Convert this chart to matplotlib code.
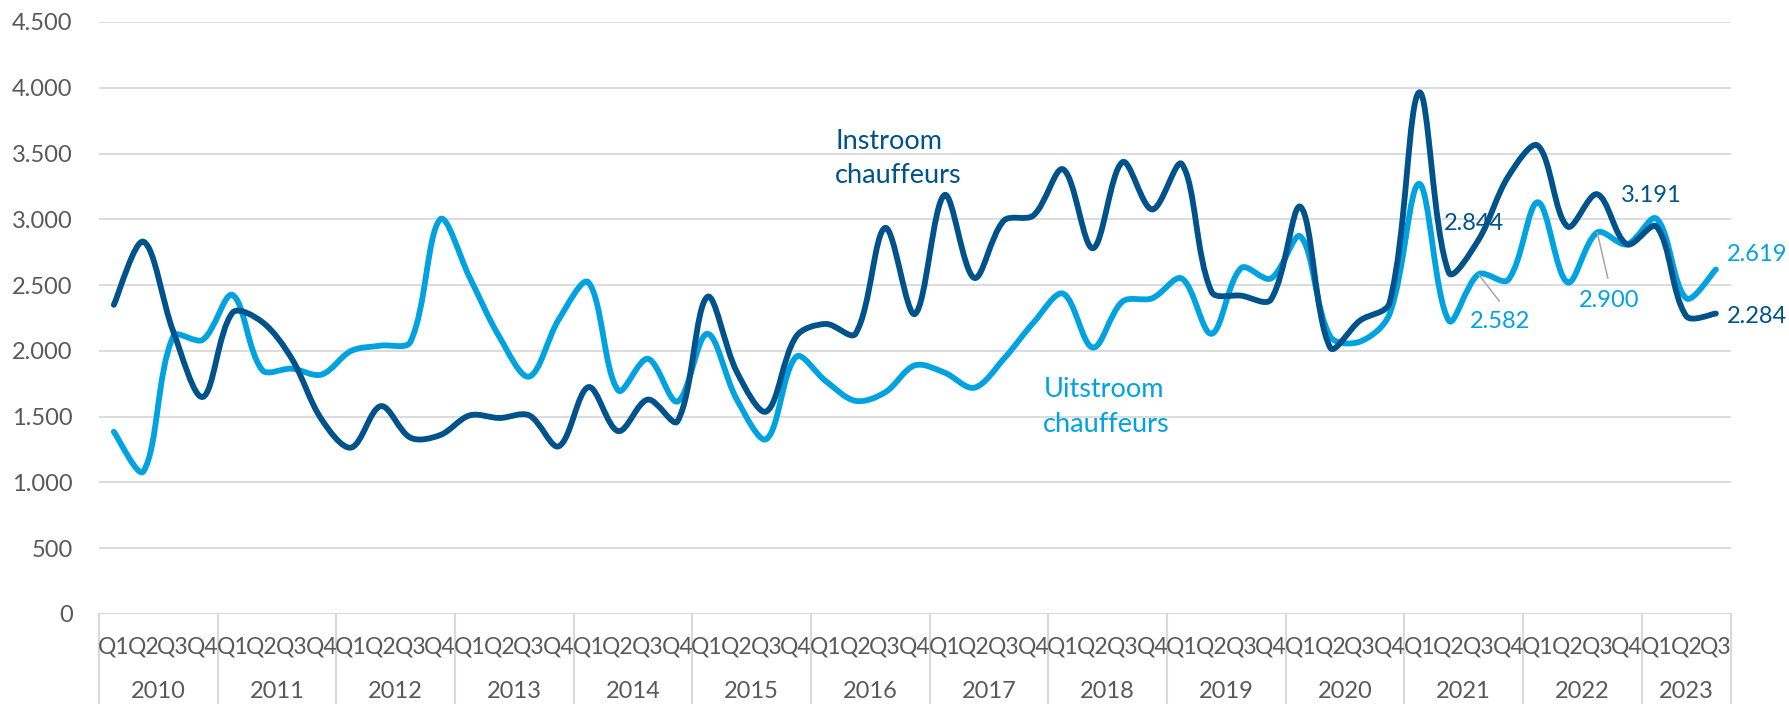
import math
import matplotlib.pyplot as plt
import matplotlib.transforms as mtransforms
from matplotlib.path import Path
from matplotlib.patches import PathPatch

plt.rcParams['font.family'] = ['Lato', 'DejaVu Sans']

# Data: quarterly, 2010 Q1 .. 2023 Q3
years = ['2010', '2011', '2012', '2013', '2014', '2015', '2016',
         '2017', '2018', '2019', '2020', '2021', '2022', '2023']
quarters_per_year = [4, 4, 4, 4, 4, 4, 4, 4, 4, 4, 4, 4, 4, 3]

instroom = [2350, 2830, 2150, 1650,
            2290, 2220, 1940, 1480,
            1265, 1580, 1340, 1360,
            1510, 1490, 1510, 1275,
            1725, 1390, 1630, 1465,
            2410, 1840, 1540, 2110,
            2205, 2130, 2935, 2280,
            3185, 2555, 2990, 3030,
            3380, 2780, 3435, 3075,
            3420, 2450, 2420, 2390,
            3095, 2025, 2230, 2365,
            3965, 2595, 2844, 3325,
            3560, 2945, 3191, 2810,
            2945, 2265, 2284]

uitstroom = [1385, 1085, 2110, 2085,
             2425, 1855, 1865, 1820,
             2000, 2040, 2070, 3000,
             2555, 2105, 1805, 2240,
             2520, 1700, 1940, 1615,
             2130, 1630, 1330, 1955,
             1770, 1620, 1685, 1890,
             1835, 1720, 1940, 2215,
             2435, 2025, 2375, 2400,
             2550, 2130, 2630, 2550,
             2870, 2110, 2070, 2280,
             3270, 2230, 2582, 2540,
             3130, 2520, 2900, 2810,
             3005, 2400, 2619]

DARK = '#00538A'
LIGHT = '#00A3E0'
GREY_TXT = '#595959'
GRID = '#D9D9D9'

# approx. pixels per x unit / per y unit, used only to weigh segment lengths
SX, SY = 29.67, 1 / 7.6


def smooth_path(ys):
    # smoothed line like Excel: Bezier, tangent split by segment length
    xs = list(range(len(ys)))
    n = len(ys)

    def dist(i, j):
        return math.hypot((xs[j] - xs[i]) * SX, (ys[j] - ys[i]) * SY)

    c_out, c_in = [], []
    for i in range(n):
        a = max(i - 1, 0)
        b = min(i + 1, n - 1)
        tx, ty = xs[b] - xs[a], ys[b] - ys[a]
        d1 = dist(a, i) if i > 0 else 0
        d2 = dist(i, b) if i < n - 1 else 0
        if i == 0 or i == n - 1:
            f_in = f_out = 1 / 6
        else:
            f_in = d1 / (d1 + d2) / 3
            f_out = d2 / (d1 + d2) / 3
        c_in.append((xs[i] - tx * f_in, ys[i] - ty * f_in))
        c_out.append((xs[i] + tx * f_out, ys[i] + ty * f_out))

    verts = [(xs[0], ys[0])]
    codes = [Path.MOVETO]
    for i in range(n - 1):
        verts += [c_out[i], c_in[i + 1], (xs[i + 1], ys[i + 1])]
        codes += [Path.CURVE4] * 3
    return Path(verts, codes)


fig = plt.figure(figsize=(17.89, 7.04), dpi=100)
ax = fig.add_axes([99 / 1789, 1 - 614 / 704, (1730.7 - 99) / 1789, (614 - 22) / 704])

n = len(instroom)
ax.set_xlim(-0.5, n - 0.5)
ax.set_ylim(0, 4500)

# grid lines
for v in range(500, 4501, 500):
    ax.axhline(v, color=GRID, lw=1.3, zorder=0)
ax.axhline(0, color=GRID, lw=1.5, zorder=0)

for s in ax.spines.values():
    s.set_visible(False)

ax.set_yticks(range(0, 4501, 500))
ax.set_yticklabels([f'{v:,}'.replace(',', '.') for v in range(0, 4501, 500)])
ax.tick_params(axis='y', length=0, pad=19, labelsize=17, labelcolor=GREY_TXT)
ax.set_xticks([])

# lines
for data, col in [(uitstroom, LIGHT), (instroom, DARK)]:
    ax.add_patch(PathPatch(smooth_path(data), fill=False, edgecolor=col, lw=4.2,
                           capstyle='round', joinstyle='round', zorder=3))

# category axis: quarters and years
tr = mtransforms.blended_transform_factory(ax.transData, fig.transFigure)
start = 0
bounds = [-0.5]
for yr, nq in zip(years, quarters_per_year):
    for q in range(nq):
        ax.text(start + q, 1 - 647 / 704, f'Q{q + 1}', transform=tr, ha='center', va='center',
                fontsize=16.5, color=GREY_TXT)
    ax.text(start + (nq - 1) / 2, 1 - 692 / 704, yr, transform=tr, ha='center', va='center',
            fontsize=17, color=GREY_TXT)
    start += nq
    bounds.append(start - 0.5)
for b in bounds:
    ax.plot([b, b], [1 - 614 / 704, 0], transform=tr, color=GRID, lw=1.5, clip_on=False)

# series names
ax.text(24.31, 3535, 'Instroom', color=DARK, fontsize=19.5, va='baseline', ha='left')
ax.text(24.31, 3276, 'chauffeurs', color=DARK, fontsize=19.5, va='baseline', ha='left')
ax.text(31.33, 1646, 'Uitstroom', color=LIGHT, fontsize=19.5, va='baseline', ha='left')
ax.text(31.33, 1383, 'chauffeurs', color=LIGHT, fontsize=19.5, va='baseline', ha='left')


def fmt(v):
    return f'{v:,}'.replace(',', '.')


# data labels (index, series, colour, offset in points)
labels = [(46, instroom, DARK, (-25, 12)),
          (50, instroom, DARK, (17, -1)),
          (54, uitstroom, LIGHT, (8, 11)),
          (54, instroom, DARK, (8, -2.5)),
          (46, uitstroom, LIGHT, (-6, -34)),
          (50, uitstroom, LIGHT, (-13, -48.7))]
for i, ser, col, off in labels:
    ax.annotate(fmt(ser[i]), xy=(i, ser[i]), xytext=off, textcoords='offset points',
                ha='left', va='center', fontsize=17, color=col, zorder=5)

# leader lines
for i, off in [(46, (15, -19.4)), (50, (7.7, -33))]:
    ax.annotate('', xy=(i, uitstroom[i]), xytext=off, textcoords='offset points',
                arrowprops=dict(arrowstyle='-', color='#A6A6A6', lw=1.1, shrinkA=0, shrinkB=0),
                zorder=4)

plt.savefig('out.png', dpi=100)
